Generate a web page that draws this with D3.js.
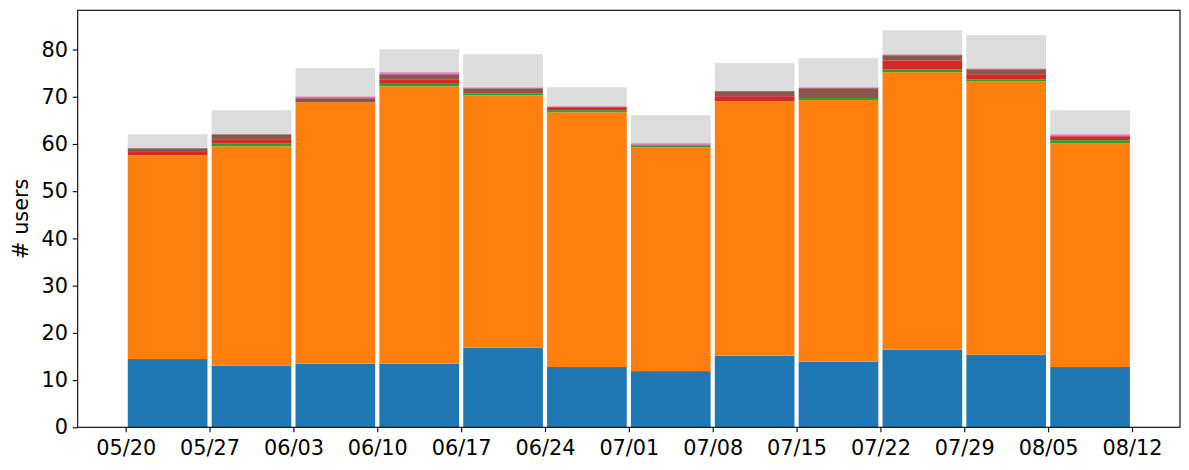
<!DOCTYPE html>
<html>
<head>
<meta charset="utf-8">
<script src="https://cdn.jsdelivr.net/npm/d3@7"></script>
<style>
  body { margin: 0; background: #fff; }
  text { font-family: "DejaVu Sans", sans-serif; }
</style>
</head>
<body>
<script>
// week start of each bar
var weeks = ["2019-05-20", "2019-05-27", "2019-06-03", "2019-06-10", "2019-06-17", "2019-06-24",
             "2019-07-01", "2019-07-08", "2019-07-15", "2019-07-22", "2019-07-29", "2019-08-05"];
var tickDates = ["2019-05-20", "2019-05-27", "2019-06-03", "2019-06-10", "2019-06-17", "2019-06-24",
                 "2019-07-01", "2019-07-08", "2019-07-15", "2019-07-22", "2019-07-29", "2019-08-05", "2019-08-12"];
var yTicks = [0, 10, 20, 30, 40, 50, 60, 70, 80];

// stacked series, bottom to top
var blue   = [14.45, 13.04, 13.47, 13.47, 16.85, 12.76, 11.9, 15.16, 13.9, 16.43, 15.37, 12.76];
var orange = [43.18, 46.46, 55.38, 58.73, 53.45, 53.94, 47.4, 53.9, 55.4, 58.77, 57.93, 47.41];
var green  = [0, 0.67, 0, 0.7, 0.45, 0.45, 0.45, 0, 0.42, 0.6, 0.4, 0.63];
var red    = [0.85, 0.83, 0, 0.8, 0, 0.65, 0, 1.06, 0, 1.9, 1.07, 0.85];
var brown  = [0.63, 1.07, 0.85, 1.07, 1.05, 0, 0, 1.07, 2.1, 1.1, 1.06, 0];
var pink   = [0, 0, 0.4, 0.43, 0.2, 0.2, 0.42, 0, 0.2, 0.2, 0.2, 0.42];
var other  = [2.96, 5.08, 5.94, 4.86, 7.0, 4.0, 5.93, 5.93, 6.15, 5.1, 7.0, 5.08];

var keys = ["blue", "orange", "green", "red", "brown", "pink", "other"];
var colors = { blue: "#1f77b4", orange: "#ff7f0e", green: "#2ca02c", red: "#d62728",
               brown: "#8c564b", pink: "#e377c2", other: "#dcdcdc" };

var parse = d3.timeParse("%Y-%m-%d");
var DAY = 864e5;

var rows = weeks.map(function (w, i) {
  return { date: parse(w), blue: blue[i], orange: orange[i], green: green[i], red: red[i],
           brown: brown[i], pink: pink[i], other: other[i] };
});

var W = 1189, H = 470;
var mLeft = 77.7, mRight = 1180, mTop = 10.3, mBottom = 427.3;

var svg = d3.select("body").append("svg")
  .attr("width", W)
  .attr("height", H);

// bars fill 95% of each week, centred in it
var barW = 7 * 0.95;
var x0 = +rows[0].date + (7 - barW) / 2 * DAY;
var x1 = +rows[rows.length - 1].date + (7 + barW) / 2 * DAY;
var pad = (x1 - x0) * 0.05;

var x = d3.scaleTime()
  .domain([new Date(x0 - pad), new Date(x1 + pad)])
  .range([mLeft, mRight]);

var stacked = d3.stack().keys(keys)(rows);
var ymax = d3.max(stacked[stacked.length - 1], function (d) { return d[1]; });

var y = d3.scaleLinear()
  .domain([0, ymax * 1.05])
  .range([mBottom, mTop]);

function barStart(d) { return x(new Date(+d.data.date + (7 - barW) / 2 * DAY)); }
function barEnd(d) { return x(new Date(+d.data.date + (7 + barW) / 2 * DAY)); }

svg.append("g")
  .selectAll("g")
  .data(stacked)
  .enter()
  .append("g")
  .attr("fill", function (s) { return colors[s.key]; })
  .selectAll("rect")
  .data(function (s) { return s; })
  .enter()
  .append("rect")
  .attr("x", barStart)
  .attr("width", function (d) { return barEnd(d) - barStart(d); })
  .attr("y", function (d) { return y(d[1]); })
  .attr("height", function (d) { return y(d[0]) - y(d[1]); });

// frame
svg.append("rect")
  .attr("x", mLeft)
  .attr("y", mTop)
  .attr("width", mRight - mLeft)
  .attr("height", mBottom - mTop)
  .attr("fill", "none")
  .attr("stroke", "#000")
  .attr("stroke-width", 1.1);

var xAxis = svg.append("g")
  .attr("transform", "translate(0," + mBottom + ")")
  .call(d3.axisBottom(x)
    .tickValues(tickDates.map(parse))
    .tickFormat(d3.timeFormat("%m/%d"))
    .tickSize(4.9)
    .tickPadding(4.9)
    .tickSizeOuter(0));

var yAxis = svg.append("g")
  .attr("transform", "translate(" + mLeft + ",0)")
  .call(d3.axisLeft(y)
    .tickValues(yTicks)
    .tickSize(4.9)
    .tickPadding(4.9)
    .tickSizeOuter(0));

[xAxis, yAxis].forEach(function (a) {
  a.select(".domain").remove();
  a.selectAll("line").attr("stroke", "#000").attr("stroke-width", 1.1);
  a.selectAll("text")
    .attr("fill", "#000")
    .style("font-family", "'DejaVu Sans', sans-serif")
    .style("font-size", "20.8px");
});
xAxis.selectAll("text").attr("dy", "0.84em");

svg.append("text")
  .attr("transform", "translate(28," + ((mTop + mBottom) / 2) + ") rotate(-90)")
  .attr("text-anchor", "middle")
  .style("font-size", "20.8px")
  .text("# users");
</script>
</body>
</html>
